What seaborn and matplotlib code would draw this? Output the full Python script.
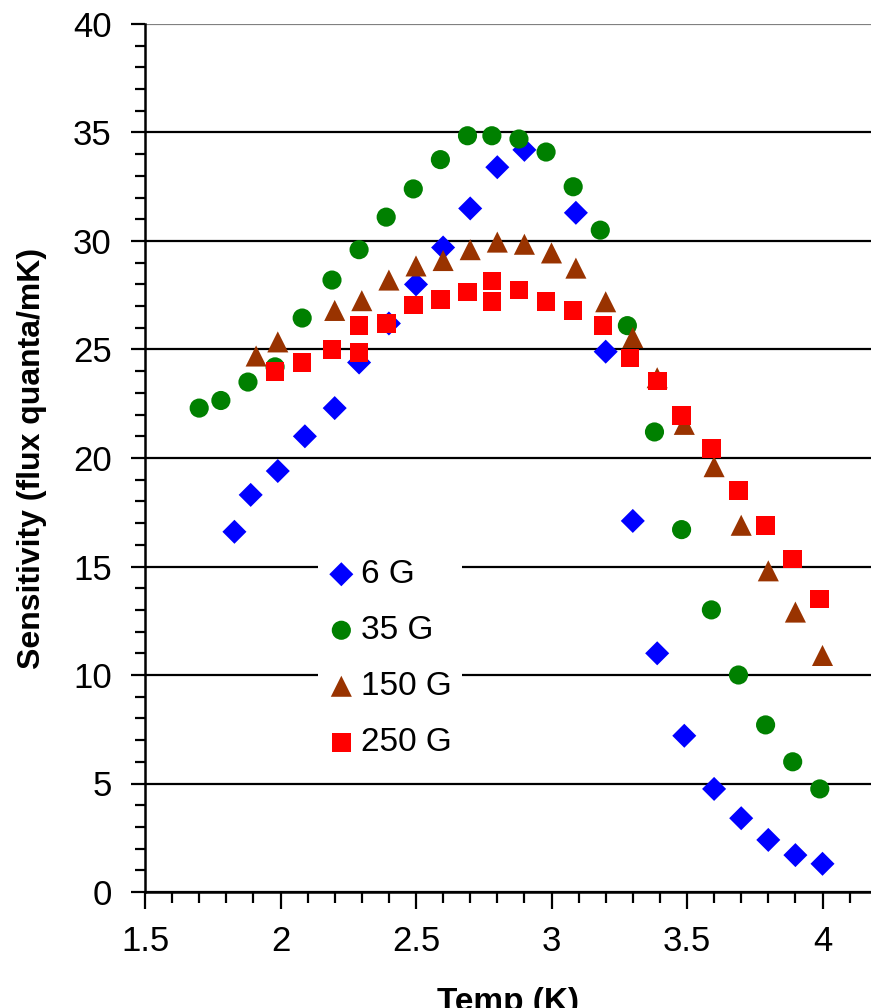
import numpy as np
import pandas as pd
import matplotlib
matplotlib.use("Agg")
import matplotlib.pyplot as plt
from matplotlib.ticker import MultipleLocator
import seaborn as sns

# ---- data ----
t_6G = [1.83, 1.89, 1.99, 2.09, 2.20, 2.29, 2.40, 2.50, 2.60, 2.70, 2.80, 2.90,
        3.09, 3.20, 3.30, 3.39, 3.49, 3.60, 3.70, 3.80, 3.90, 4.00]
s_6G = [16.6, 18.3, 19.4, 21.0, 22.3, 24.4, 26.2, 28.0, 29.7, 31.5, 33.4, 34.2,
        31.3, 24.9, 17.1, 11.0, 7.2, 4.75, 3.4, 2.4, 1.7, 1.3]

t_35G = [1.70, 1.78, 1.88, 1.98, 2.08, 2.19, 2.29, 2.39, 2.49, 2.59, 2.69, 2.78,
         2.88, 2.98, 3.08, 3.18, 3.28, 3.38, 3.48, 3.59, 3.69, 3.79, 3.89, 3.99]
s_35G = [22.3, 22.65, 23.5, 24.2, 26.45, 28.2, 29.6, 31.1, 32.4, 33.75, 34.85, 34.85,
         34.7, 34.1, 32.5, 30.5, 26.1, 21.2, 16.7, 13.0, 10.0, 7.7, 6.0, 4.75]

t_150G = [1.91, 1.99, 2.20, 2.30, 2.40, 2.50, 2.60, 2.70, 2.80, 2.90, 3.00, 3.09,
          3.20, 3.30, 3.39, 3.49, 3.60, 3.70, 3.80, 3.90, 4.00]
s_150G = [24.7, 25.35, 26.8, 27.25, 28.2, 28.85, 29.1, 29.6, 29.95, 29.85, 29.45, 28.75,
          27.2, 25.55, 23.7, 21.55, 19.6, 16.9, 14.8, 12.9, 10.9]

t_250G = [1.98, 2.08, 2.19, 2.29, 2.29, 2.39, 2.49, 2.59, 2.69, 2.78, 2.78, 2.88,
          2.98, 3.08, 3.19, 3.29, 3.39, 3.48, 3.59, 3.69, 3.79, 3.89, 3.99]
s_250G = [24.0, 24.4, 25.0, 24.85, 26.1, 26.2, 27.05, 27.3, 27.65, 28.15, 27.2, 27.75,
          27.2, 26.8, 26.1, 24.6, 23.55, 21.95, 20.45, 18.5, 16.9, 15.35, 13.5]

series_labels = ["6 G", "35 G", "150 G", "250 G"]
x_ticks = [1.5, 2, 2.5, 3, 3.5, 4]
x_tick_labels = ["1.5", "2", "2.5", "3", "3.5", "4"]
y_ticks = [0, 5, 10, 15, 20, 25, 30, 35, 40]

# ---- styling ----
sns.set_theme(style="white")
plt.rcParams['font.family'] = ['Liberation Sans', 'DejaVu Sans']

colors = ["#0000FF", "#008000", "#993300", "#FF0000"]
markers = ["D", "o", "^", "s"]
msizes = [150, 190, 230, 180]

W, H = 871, 1008
fig = plt.figure(figsize=(W / 100, H / 100), dpi=100)
ax = fig.add_axes([145 / W, 116 / H, (W - 145) / W, 868 / H])

all_t = [t_6G, t_35G, t_150G, t_250G]
all_s = [s_6G, s_35G, s_150G, s_250G]
for t, s, lab, c, m, ms in zip(all_t, all_s, series_labels, colors, markers, msizes):
    df = pd.DataFrame({"Temp": t, "Sens": s})
    sns.scatterplot(data=df, x="Temp", y="Sens", ax=ax, color=c, marker=m, s=ms,
                    edgecolor="none", linewidth=0, label=lab, zorder=3)

ax.set_xlim(1.5, 1.5 + (W - 145) / 271.0)
ax.set_ylim(0, 40)
ax.set_xticks(x_ticks)
ax.set_xticklabels(x_tick_labels)
ax.set_yticks(y_ticks)
ax.xaxis.set_minor_locator(MultipleLocator(0.1))
ax.yaxis.set_minor_locator(MultipleLocator(1))

ax.tick_params(axis="both", which="major", direction="out", length=10, width=1.6,
               color="black", labelsize=25, labelcolor="black")
ax.tick_params(axis="both", which="minor", direction="out", length=7, width=1.6,
               color="black")
ax.tick_params(axis="y", which="major", pad=14)
ax.tick_params(axis="x", which="major", length=12, pad=12)
ax.tick_params(axis="x", which="minor", length=8)
ax.tick_params(left=True, bottom=True, which="both")

ax.grid(axis="y", which="major", color="black", linewidth=1.6, zorder=1)
ax.grid(axis="x", visible=False)
gls = ax.get_ygridlines()
gls[-1].set_color("#808080")
ax.set_axisbelow(True)

for side in ["left", "bottom"]:
    ax.spines[side].set_color("black")
    ax.spines[side].set_linewidth(1.8)
ax.spines["right"].set_visible(False)
ax.spines["top"].set_visible(False)

ax.set_xlabel("Temp (K)", fontsize=24, fontweight="bold", color="black")
ax.set_ylabel("Sensitivity (flux quanta/mK)", fontsize=23, fontweight="bold", color="black")
ax.xaxis.set_label_coords(0.5, (892 - 987) / 868.0)
ax.yaxis.set_label_coords((47 - 145) / 726.0, 0.5)

leg = ax.legend(loc="upper left", bbox_to_anchor=(318 / W, 1 - 549 / H),
                bbox_transform=fig.transFigure, frameon=True, fontsize=24,
                handlelength=0.8, handletextpad=0.2, labelspacing=0.75,
                borderpad=0.3, borderaxespad=0, markerscale=1.0)
leg.get_frame().set_facecolor("white")
leg.get_frame().set_edgecolor("none")
leg.get_frame().set_alpha(1)
for txt in leg.get_texts():
    txt.set_color("black")
leg.set_zorder(5)

fig.savefig("out.png", dpi=100)
